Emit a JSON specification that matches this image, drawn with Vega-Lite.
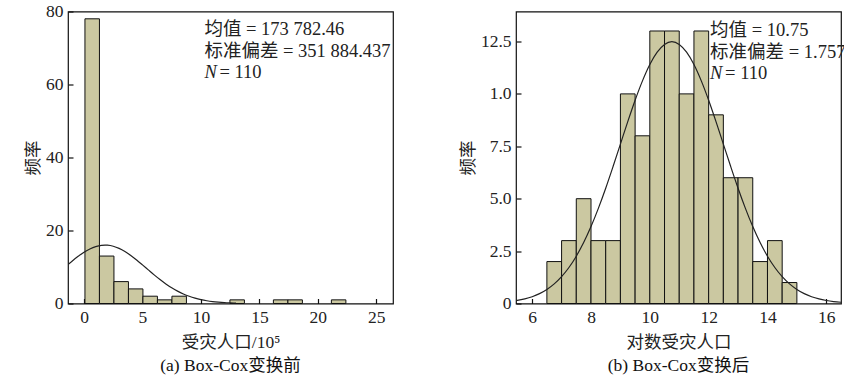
{
  "$schema": "https://vega.github.io/schema/vega-lite/v6.json",
  "background": "white",
  "padding": {"left": 23, "top": 1.5, "right": 5, "bottom": 5},
  "config": {
    "font": "Liberation Serif, Noto Sans CJK SC",
    "view": {"stroke": "#111", "strokeWidth": 1.2},
    "concat": {"spacing": 64},
    "axis": {
      "domain": false,
      "grid": false,
      "ticks": true,
      "tickColor": "#111",
      "tickSize": -5,
      "tickWidth": 1.2,
      "labelPadding": 10,
      "labelFont": "Liberation Serif",
      "labelFontSize": 17.5,
      "labelColor": "#222",
      "titleFont": "Liberation Serif, Noto Sans CJK SC",
      "titleFontSize": 17.5,
      "titleFontWeight": "normal",
      "titleColor": "#222"
    },
    "title": {"font": "Liberation Serif, Noto Sans CJK SC", "fontSize": 17.5, "fontWeight": "normal", "color": "#111"}
  },
  "datasets": {
    "histA": [
      {"x0": 0.08, "x1": 1.32, "count": 78},
      {"x0": 1.32, "x1": 2.56, "count": 13},
      {"x0": 2.56, "x1": 3.80, "count": 6},
      {"x0": 3.80, "x1": 5.04, "count": 4},
      {"x0": 5.04, "x1": 6.28, "count": 2},
      {"x0": 6.28, "x1": 7.52, "count": 1},
      {"x0": 7.52, "x1": 8.76, "count": 2},
      {"x0": 12.48, "x1": 13.72, "count": 1},
      {"x0": 16.2, "x1": 17.44, "count": 1},
      {"x0": 17.44, "x1": 18.68, "count": 1},
      {"x0": 21.16, "x1": 22.4, "count": 1}
    ],
    "curveA": [
      {"x": -1.37, "y": 10.66}, {"x": -1, "y": 11.66}, {"x": -0.5, "y": 12.92}, {"x": 0, "y": 14.04},
      {"x": 0.5, "y": 14.94}, {"x": 1, "y": 15.59}, {"x": 1.5, "y": 15.94}, {"x": 1.8, "y": 16.0},
      {"x": 2, "y": 15.97}, {"x": 2.5, "y": 15.69}, {"x": 3, "y": 15.1}, {"x": 3.5, "y": 14.24},
      {"x": 4, "y": 13.16}, {"x": 4.5, "y": 11.92}, {"x": 5, "y": 10.58}, {"x": 5.5, "y": 9.21},
      {"x": 6, "y": 7.85}, {"x": 6.5, "y": 6.56}, {"x": 7, "y": 5.37}, {"x": 7.5, "y": 4.31},
      {"x": 8, "y": 3.39}, {"x": 8.5, "y": 2.61}, {"x": 9, "y": 1.97}, {"x": 9.5, "y": 1.46},
      {"x": 10, "y": 1.06}, {"x": 10.5, "y": 0.75}, {"x": 11, "y": 0.52}, {"x": 11.5, "y": 0.36},
      {"x": 12, "y": 0.24}, {"x": 12.5, "y": 0.16}, {"x": 13, "y": 0.1}
    ],
    "textA": [
      {"x": 10.3, "y": 75.1, "t": "均值 = 173 782.46"},
      {"x": 10.3, "y": 69.1, "t": "标准偏差 = 351 884.437"}
    ],
    "nA": [{"x": 10.3, "y": 63.3, "n": "N", "t": "= 110"}],
    "histB": [
      {"x0": 6.5, "x1": 7.0, "count": 2},
      {"x0": 7.0, "x1": 7.5, "count": 3},
      {"x0": 7.5, "x1": 8.0, "count": 5},
      {"x0": 8.0, "x1": 8.5, "count": 3},
      {"x0": 8.5, "x1": 9.0, "count": 3},
      {"x0": 9.0, "x1": 9.5, "count": 10},
      {"x0": 9.5, "x1": 10.0, "count": 8},
      {"x0": 10.0, "x1": 10.5, "count": 13},
      {"x0": 10.5, "x1": 11.0, "count": 13},
      {"x0": 11.0, "x1": 11.5, "count": 10},
      {"x0": 11.5, "x1": 12.0, "count": 13},
      {"x0": 12.0, "x1": 12.5, "count": 9},
      {"x0": 12.5, "x1": 13.0, "count": 6},
      {"x0": 13.0, "x1": 13.5, "count": 6},
      {"x0": 13.5, "x1": 14.0, "count": 2},
      {"x0": 14.0, "x1": 14.5, "count": 3},
      {"x0": 14.5, "x1": 15.0, "count": 1}
    ],
    "curveB": [
      {"x": 5.45, "y": 0.132}, {"x": 5.75, "y": 0.218}, {"x": 6.0, "y": 0.323}, {"x": 6.25, "y": 0.47},
      {"x": 6.5, "y": 0.67}, {"x": 6.75, "y": 0.935}, {"x": 7.0, "y": 1.28}, {"x": 7.25, "y": 1.717},
      {"x": 7.5, "y": 2.257}, {"x": 7.75, "y": 2.906}, {"x": 8.0, "y": 3.669}, {"x": 8.25, "y": 4.539},
      {"x": 8.5, "y": 5.501}, {"x": 8.75, "y": 6.535}, {"x": 9.0, "y": 7.605}, {"x": 9.25, "y": 8.676},
      {"x": 9.5, "y": 9.697}, {"x": 9.75, "y": 10.62}, {"x": 10.0, "y": 11.4}, {"x": 10.25, "y": 11.99},
      {"x": 10.5, "y": 12.36}, {"x": 10.75, "y": 12.49}, {"x": 11.0, "y": 12.36}, {"x": 11.25, "y": 11.99},
      {"x": 11.5, "y": 11.4}, {"x": 11.75, "y": 10.62}, {"x": 12.0, "y": 9.697}, {"x": 12.25, "y": 8.676},
      {"x": 12.5, "y": 7.605}, {"x": 12.75, "y": 6.535}, {"x": 13.0, "y": 5.501}, {"x": 13.25, "y": 4.539},
      {"x": 13.5, "y": 3.669}, {"x": 13.75, "y": 2.906}, {"x": 14.0, "y": 2.257}, {"x": 14.25, "y": 1.717},
      {"x": 14.5, "y": 1.28}, {"x": 14.75, "y": 0.935}, {"x": 15.0, "y": 0.67}, {"x": 15.25, "y": 0.47},
      {"x": 15.5, "y": 0.323}, {"x": 15.75, "y": 0.218}, {"x": 16.0, "y": 0.144}, {"x": 16.25, "y": 0.093},
      {"x": 16.5, "y": 0.059}
    ],
    "textB": [
      {"x": 12.05, "y": 13.06, "t": "均值 = 10.75"},
      {"x": 12.05, "y": 11.99, "t": "标准偏差 = 1.757"}
    ],
    "nB": [{"x": 12.05, "y": 10.99, "n": "N", "t": "= 110"}]
  },
  "hconcat": [
    {
      "width": 325,
      "height": 292,
      "title": {"text": "(a) Box-Cox变换前", "orient": "bottom", "offset": 6},
      "layer": [
        {
          "data": {"name": "histA"},
          "mark": {"type": "bar", "fill": "#cbc8a1", "stroke": "#111", "strokeWidth": 1},
          "encoding": {
            "x": {"field": "x0", "type": "quantitative", "scale": {"domain": [-1.37, 26.43], "nice": false, "zero": false},
                  "axis": {"values": [0, 5, 10, 15, 20, 25], "title": "受灾人口/10⁵", "titlePadding": 7}},
            "x2": {"field": "x1"},
            "y": {"field": "count", "type": "quantitative", "scale": {"domain": [0, 80], "nice": false},
                  "axis": {"values": [0, 20, 40, 60, 80], "title": "频率", "titlePadding": 3}},
            "y2": {"datum": 0}
          }
        },
        {
          "data": {"name": "curveA"},
          "mark": {"type": "line", "stroke": "#222", "strokeWidth": 1.2, "interpolate": "monotone", "clip": true},
          "encoding": {
            "x": {"field": "x", "type": "quantitative"},
            "y": {"field": "y", "type": "quantitative"}
          }
        },
        {
          "data": {"name": "textA"},
          "mark": {"type": "text", "align": "left", "baseline": "middle", "fontSize": 18.5, "color": "#222"},
          "encoding": {
            "x": {"field": "x", "type": "quantitative"},
            "y": {"field": "y", "type": "quantitative"},
            "text": {"field": "t"}
          }
        },
        {
          "data": {"name": "nA"},
          "mark": {"type": "text", "align": "left", "baseline": "middle", "fontSize": 18.5, "fontStyle": "italic", "font": "Liberation Serif", "color": "#222"},
          "encoding": {
            "x": {"field": "x", "type": "quantitative"},
            "y": {"field": "y", "type": "quantitative"},
            "text": {"field": "n"}
          }
        },
        {
          "data": {"name": "nA"},
          "mark": {"type": "text", "align": "left", "baseline": "middle", "fontSize": 18.5, "dx": 15, "font": "Liberation Serif", "color": "#222"},
          "encoding": {
            "x": {"field": "x", "type": "quantitative"},
            "y": {"field": "y", "type": "quantitative"},
            "text": {"field": "t"}
          }
        }
      ]
    },
    {
      "width": 325,
      "height": 292,
      "title": {"text": "(b) Box-Cox变换后", "orient": "bottom", "offset": 6},
      "layer": [
        {
          "data": {"name": "histB"},
          "mark": {"type": "bar", "fill": "#cbc8a1", "stroke": "#111", "strokeWidth": 1},
          "encoding": {
            "x": {"field": "x0", "type": "quantitative", "scale": {"domain": [5.45, 16.5], "nice": false, "zero": false},
                  "axis": {"values": [6, 8, 10, 12, 14, 16], "title": "对数受灾人口", "titlePadding": 7}},
            "x2": {"field": "x1"},
            "y": {"field": "count", "type": "quantitative", "scale": {"domain": [0, 13.93], "nice": false},
                  "axis": {"values": [0, 2.5, 5, 7.5, 10, 12.5], "title": "频率", "titlePadding": 3,
                           "labelExpr": "datum.value == 0 ? '0' : (datum.value == 10 ? '1.0' : format(datum.value, '.1f'))"}},
            "y2": {"datum": 0}
          }
        },
        {
          "data": {"name": "curveB"},
          "mark": {"type": "line", "stroke": "#222", "strokeWidth": 1.2, "interpolate": "monotone", "clip": true},
          "encoding": {
            "x": {"field": "x", "type": "quantitative"},
            "y": {"field": "y", "type": "quantitative"}
          }
        },
        {
          "data": {"name": "textB"},
          "mark": {"type": "text", "align": "left", "baseline": "middle", "fontSize": 18.5, "color": "#222"},
          "encoding": {
            "x": {"field": "x", "type": "quantitative"},
            "y": {"field": "y", "type": "quantitative"},
            "text": {"field": "t"}
          }
        },
        {
          "data": {"name": "nB"},
          "mark": {"type": "text", "align": "left", "baseline": "middle", "fontSize": 18.5, "fontStyle": "italic", "font": "Liberation Serif", "color": "#222"},
          "encoding": {
            "x": {"field": "x", "type": "quantitative"},
            "y": {"field": "y", "type": "quantitative"},
            "text": {"field": "n"}
          }
        },
        {
          "data": {"name": "nB"},
          "mark": {"type": "text", "align": "left", "baseline": "middle", "fontSize": 18.5, "dx": 15, "font": "Liberation Serif", "color": "#222"},
          "encoding": {
            "x": {"field": "x", "type": "quantitative"},
            "y": {"field": "y", "type": "quantitative"},
            "text": {"field": "t"}
          }
        }
      ]
    }
  ]
}
